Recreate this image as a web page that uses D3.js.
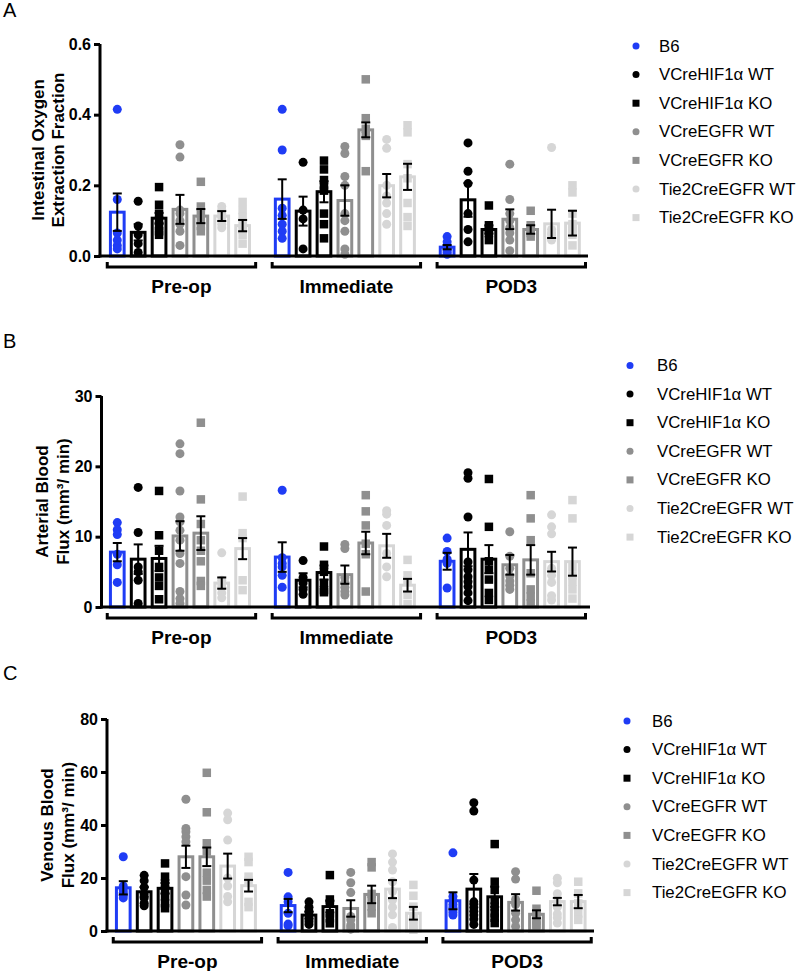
<!DOCTYPE html>
<html><head><meta charset="utf-8">
<script src="https://cdn.jsdelivr.net/npm/d3@7"></script>
<style>
body{margin:0;background:#fff}
svg text{font-family:"Liberation Sans",Arial,Helvetica,sans-serif}
</style>
</head><body>
<svg id="chart" width="800" height="971"></svg>
<script>
// ---------- categories ----------
const groups = ["Pre-op", "Immediate", "POD3"];
const series = ["B6", "VCreHIF1α WT", "VCreHIF1α KO", "VCreEGFR WT", "VCreEGFR KO", "Tie2CreEGFR WT", "Tie2CreEGFR KO"];
const seriesShape = ["circle", "circle", "square", "circle", "square", "circle", "square"];
const seriesColor = ["#1f3cf5", "#000000", "#000000", "#8f8f8f", "#8f8f8f", "#d6d6d6", "#d6d6d6"];

// ---------- Panel A: Intestinal oxygen extraction fraction ----------
const oefTicks = [0, 0.2, 0.4, 0.6];
const oefMeans = [
  [0.124, 0.067, 0.107, 0.132, 0.113, 0.113, 0.086],
  [0.161, 0.127, 0.182, 0.157, 0.357, 0.199, 0.224],
  [0.025, 0.159, 0.075, 0.104, 0.075, 0.091, 0.093]
];
const oefSem = [
  [0.053, 0.023, 0.015, 0.041, 0.020, 0.014, 0.016],
  [0.056, 0.041, 0.030, 0.043, 0.021, 0.033, 0.037],
  [0.006, 0.048, 0.012, 0.028, 0.012, 0.040, 0.035]
];
const oefPoints = [
  [[0.415, 0.16, 0.065, 0.045, 0.03, 0.02],
   [0.155, 0.085, 0.06, 0.035, 0.01],
   [0.195, 0.145, 0.12, 0.1, 0.085, 0.07, 0.06],
   [0.315, 0.28, 0.13, 0.12, 0.1, 0.09, 0.07, 0.03],
   [0.21, 0.14, 0.12, 0.1, 0.085, 0.07],
   [0.14, 0.13, 0.12, 0.11, 0.1, 0.09, 0.08],
   [0.153, 0.13, 0.11, 0.09, 0.075, 0.06, 0.035]],
  [[0.415, 0.3, 0.135, 0.115, 0.09, 0.07, 0.05],
   [0.265, 0.13, 0.105, 0.02],
   [0.27, 0.245, 0.215, 0.2, 0.185, 0.12, 0.09, 0.05],
   [0.31, 0.29, 0.225, 0.2, 0.12, 0.1, 0.07, 0.02, 0.005],
   [0.5, 0.39, 0.36, 0.34, 0.24],
   [0.33, 0.305, 0.2, 0.17, 0.15, 0.12, 0.09],
   [0.37, 0.35, 0.26, 0.22, 0.15, 0.11, 0.085]],
  [[0.055, 0.04, 0.03, 0.02, 0.015, 0.01, 0.005],
   [0.32, 0.24, 0.205, 0.12, 0.075, 0.04],
   [0.143, 0.087, 0.075, 0.065, 0.045],
   [0.26, 0.16, 0.12, 0.1, 0.08, 0.065, 0.045, 0.015],
   [0.128, 0.087, 0.075, 0.065, 0.055],
   [0.307, 0.075, 0.065, 0.06, 0.05, 0.045],
   [0.2, 0.18, 0.12, 0.09, 0.08, 0.07, 0.06, 0.03]]
];

// ---------- Panel B: Arterial blood flux ----------
const artTicks = [0, 10, 20, 30];
const artMeans = [
  [7.8, 6.8, 6.9, 10.1, 10.5, 3.4, 8.3],
  [7.1, 3.8, 4.9, 4.6, 9.1, 8.7, 3.1],
  [6.5, 8.2, 6.8, 6.0, 6.7, 6.45, 6.45]
];
const artSem = [
  [1.3, 2.1, 1.8, 2.1, 2.4, 0.8, 1.5],
  [2.1, 1.0, 1.0, 1.3, 1.6, 1.7, 0.9],
  [1.2, 2.4, 2.0, 1.4, 2.1, 1.4, 2.0]
];
const artPoints = [
  [[12, 11, 10.3, 7.5, 6, 3.5],
   [17, 10.6, 5.7, 5, 3.8, 0.5],
   [16.5, 10.2, 8, 5.7, 4.2, 3, 1.1],
   [23.2, 21.8, 16.5, 12.8, 12.1, 10.9, 9.5, 7.6, 6.2, 2.2, 1.2, 0.5],
   [26.2, 15.3, 11.8, 9.5, 8, 6.5, 3.7, 3],
   [7.7, 3.8, 3.3, 2.8, 2.0, 1.3],
   [15.7, 10.5, 9.8, 3.8, 2.4]],
  [[16.6, 7, 6.2, 5.7, 4.5, 2.8],
   [6.6, 4.2, 3.4, 2.5, 1.8],
   [8.6, 6, 5, 3.4, 2.4, 2.1],
   [8.9, 8.3, 4.2, 3.5, 2.8, 2.2, 1.7],
   [15.9, 13.6, 11.6, 9, 7.5, 2.2],
   [13.7, 13.2, 11.6, 7.6, 5.7, 4.3],
   [6.7, 4.5, 3.8, 1.7, 0.4]],
  [[9.8, 7.9, 6.8, 6.2, 2.7],
   [19.1, 18.3, 12.8, 6.4, 5.3, 4.3, 3.6, 2.9, 2.0, 0.9],
   [18.2, 11.4, 6.5, 5.3, 3.9, 2, 1],
   [10.7, 7.2, 5.5, 4.4, 3.7, 3.1, 2.5],
   [15.9, 12.6, 9.5, 4.8, 2.5, 1.5, 0.5],
   [13.1, 11.4, 10.4, 5.5, 4.5, 3.5, 1.6, 1.0],
   [15.2, 12.6, 5.7, 4.5, 3.6, 2.5, 1.2]]
];

// ---------- Panel C: Venous blood flux ----------
const venTicks = [0, 20, 40, 60, 80];
const venMeans = [
  [16.3, 14.8, 16.1, 28.0, 28.0, 24.5, 17.1],
  [9.6, 6.0, 9.2, 8.5, 13.8, 15.8, 6.7],
  [11.4, 15.8, 12.9, 10.8, 6.3, 11.1, 11.1]
];
const venSem = [
  [2.5, 1.8, 2.0, 4.2, 3.5, 4.7, 2.2],
  [2.5, 1.2, 2.2, 3.1, 3.3, 3.4, 2.4],
  [3.2, 5.7, 3.8, 3.1, 1.5, 1.4, 2.5]
];
const venPoints = [
  [[28, 17, 15.5, 14.5, 13.5, 12.5],
   [21, 19, 16.5, 14, 12.5, 10.5, 9.5],
   [25.5, 20.5, 18, 15.5, 13, 10.5, 8.6],
   [49.7, 38.7, 37.5, 35.6, 33.7, 20.5, 13.6, 9.8],
   [59.7, 44.8, 33.1, 30, 22, 19, 15.5, 13],
   [44.5, 42, 34.3, 20, 17, 13, 11],
   [28, 26, 20.5, 19, 11, 9]],
  [[22.1, 12.9, 11, 6.7, 2.6, 2],
   [11, 9, 7.5, 6, 4.5, 3.5, 2.5],
   [21.1, 11.9, 10.4, 6.7, 4.8, 2.9],
   [22.1, 18.2, 14.5, 5.5, 4.2, 2.3, 1.5, 0.7],
   [26, 24, 14, 11.7, 9.2, 6.7],
   [29.1, 26, 23, 18.6, 14.9, 11.7, 9, 6.1, 1.3],
   [17.4, 13.3, 9.2, 5, 4.4, 2, 1.6, 0.5]],
  [[29.5, 13, 11.5, 10, 9, 8, 7, 6],
   [48.4, 45.3, 19.2, 11, 9, 7.5, 6, 4.5, 2.5],
   [32.8, 18.6, 15.5, 11.7, 9.2, 6.7, 5, 3],
   [22.4, 19.6, 11.9, 10, 6.7, 4.2, 1.7],
   [15.2, 8.4, 6.4, 3.9, 2.5, 2],
   [19.9, 18.2, 14.1, 11, 9, 6.4, 5, 3],
   [18.6, 14.2, 10.4, 6.6, 4.2]]
];

// ---------- layout ----------
const panels = [
  {label: "A", labelY: 17, axisX: 100, yTop: 44, y0: 256, max: 0.6, ticks: oefTicks, fmt: d3.format(".1f"),
   xStart: 104.75, xEnd: 585, axisEnd: 588, title: ["Intestinal Oxygen", "Extraction Fraction"], titleX: [38, 58],
   legX: 636, legTextX: 659, legY: 46, means: oefMeans, sems: oefSem, points: oefPoints},
  {label: "B", labelY: 348, axisX: 101.5, yTop: 396, y0: 607, max: 30, ticks: artTicks, fmt: d3.format("d"),
   xStart: 104.75, xEnd: 585, axisEnd: 590, title: ["Arterial Blood", "Flux (mm³/ min)"], titleX: [42, 63],
   legX: 630, legTextX: 657, legY: 365.5, means: artMeans, sems: artSem, points: artPoints},
  {label: "C", labelY: 680, axisX: 107, yTop: 719, y0: 931, max: 80, ticks: venTicks, fmt: d3.format("d"),
   xStart: 110.75, xEnd: 590.75, axisEnd: 594, title: ["Venous Blood", "Flux (mm³/ min)"], titleX: [47, 68],
   legX: 627, legTextX: 652, legY: 721, means: venMeans, sems: venSem, points: venPoints}
];

const svg = d3.select("#chart");

function marker(sel, shape, color, size) {
  if (shape === "circle") {
    sel.append("circle").attr("r", size / 2).attr("fill", color);
  } else {
    sel.append("rect").attr("x", -size / 2).attr("y", -size / 2).attr("width", size).attr("height", size).attr("fill", color);
  }
}

panels.forEach(p => {
  const g = svg.append("g");
  const y = d3.scaleLinear().domain([0, p.max]).range([p.y0, p.yTop]);
  const xg = d3.scaleBand().domain(groups).range([p.xStart, p.xEnd]).paddingInner(0.088).paddingOuter(0);
  const xs = d3.scaleBand().domain(series).range([0, xg.bandwidth()]).padding(0.2);
  const cx = (gi, si) => xg(groups[gi]) + xs(series[si]) + xs.bandwidth() / 2;

  // panel label
  g.append("text").attr("x", 3).attr("y", p.labelY).attr("font-size", 20).text(p.label);

  // y title
  p.title.forEach((t, i) => {
    g.append("text")
      .attr("transform", `translate(${p.titleX[i]},${(p.y0 + p.yTop) / 2}) rotate(-90)`)
      .attr("text-anchor", "middle").attr("dominant-baseline", "central")
      .attr("font-size", 17).attr("font-weight", "bold").text(t);
  });

  // bars
  groups.forEach((gr, gi) => {
    series.forEach((s, si) => {
      const c = cx(gi, si);
      const bw = xs.bandwidth() - 3;
      g.append("rect")
        .attr("x", c - bw / 2).attr("width", bw)
        .attr("y", y(p.means[gi][si])).attr("height", p.y0 - y(p.means[gi][si]))
        .attr("fill", "none").attr("stroke", seriesColor[si]).attr("stroke-width", 3);
    });
  });

  // points
  groups.forEach((gr, gi) => {
    series.forEach((s, si) => {
      const c = cx(gi, si);
      p.points[gi][si].forEach(v => {
        const m = g.append("g").attr("transform", `translate(${c},${y(v)})`);
        marker(m, seriesShape[si], seriesColor[si], seriesShape[si] === "circle" ? 9 : 8.5);
      });
    });
  });

  // error bars
  groups.forEach((gr, gi) => {
    series.forEach((s, si) => {
      const c = cx(gi, si);
      const m = p.means[gi][si], e = p.sems[gi][si];
      const hi = y(m + e), lo = y(Math.max(0, m - e));
      const eb = g.append("g").attr("stroke", "#000").attr("stroke-width", 2);
      eb.append("line").attr("x1", c).attr("x2", c).attr("y1", hi).attr("y2", lo);
      eb.append("line").attr("x1", c - 4.5).attr("x2", c + 4.5).attr("y1", hi).attr("y2", hi);
      eb.append("line").attr("x1", c - 4.5).attr("x2", c + 4.5).attr("y1", lo).attr("y2", lo);
    });
  });

  // y axis
  const ax = g.append("g").attr("transform", `translate(${p.axisX},0)`)
    .call(d3.axisLeft(y).tickValues(p.ticks).tickFormat(p.fmt).tickSize(6).tickSizeOuter(0).tickPadding(3));
  ax.select(".domain").attr("stroke-width", 3).attr("d", `M0,${p.yTop}V${p.y0 + 1.5}`);
  ax.selectAll(".tick line").attr("stroke-width", 3);
  ax.selectAll(".tick text").attr("font-size", 16).attr("font-weight", "bold")
    .attr("font-family", "'Liberation Sans', Arial, sans-serif").attr("fill", "#000");

  // x axis baseline
  g.append("line").attr("x1", p.axisX - 1.5).attr("x2", p.axisEnd).attr("y1", p.y0).attr("y2", p.y0)
    .attr("stroke", "#000").attr("stroke-width", 3);

  // group brackets & labels
  groups.forEach(gr => {
    const x1 = xg(gr) + 2.5, x2 = xg(gr) + xg.bandwidth() + 0.5, by = p.y0 + 11;
    g.append("path").attr("d", `M${x1},${by - 5}V${by}H${x2}V${by - 5}`)
      .attr("fill", "none").attr("stroke", "#000").attr("stroke-width", 3);
    g.append("text").attr("x", (x1 + x2) / 2).attr("y", p.y0 + 37).attr("text-anchor", "middle")
      .attr("font-size", 19).attr("font-weight", "bold").text(gr);
  });

  // legend
  series.forEach((s, si) => {
    const ly = p.legY + si * 28.6;
    const m = g.append("g").attr("transform", `translate(${p.legX},${ly})`);
    marker(m, seriesShape[si], seriesColor[si], 7);
    g.append("text").attr("x", p.legTextX).attr("y", ly).attr("dominant-baseline", "central")
      .attr("font-size", 16.8).text(s);
  });
});
</script>
</body></html>
